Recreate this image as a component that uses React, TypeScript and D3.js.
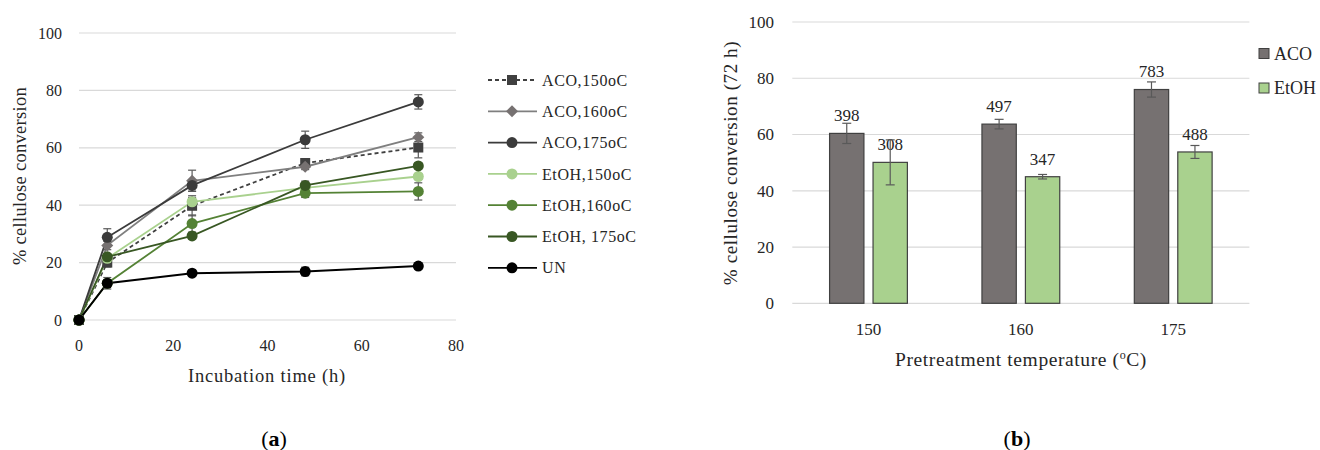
import React from "react";
import * as d3 from "d3";

// ---- Panel (a) data ----
const times = [0, 6, 24, 48, 72];
const seriesNames = ["ACO,150oC", "ACO,160oC", "ACO,175oC", "EtOH,150oC", "EtOH,160oC", "EtOH, 175oC", "UN"];
const aco150 = [0, 20.0, 39.8, 54.7, 60.1];
const aco160 = [0, 26.0, 48.5, 53.4, 63.7];
const aco175 = [0, 28.8, 46.9, 62.8, 76.0];
const etoh150 = [0, 21.5, 41.2, 46.0, 50.0];
const etoh160 = [0, 12.8, 33.6, 44.2, 44.8];
const etoh175 = [0, 22.0, 29.3, 46.9, 53.7];
const un = [0, 12.8, 16.3, 16.9, 18.8];
const aco150Err = [0, 1.5, 3.5, 1.5, 3.6];
const aco160Err = [0, 1.5, 3.7, 1.0, 1.5];
const aco175Err = [0, 3.0, 2.0, 3.0, 2.5];
const etoh150Err = [0, 1.0, 1.5, 1.0, 1.0];
const etoh160Err = [0, 1.0, 3.0, 1.5, 3.0];
const etoh175Err = [0, 1.0, 1.0, 1.5, 1.0];
const unErr = [0, 2.0, 1.0, 1.5, 1.0];
const xTicksA = [0, 20, 40, 60, 80];
const yTicks = [0, 20, 40, 60, 80, 100];

// ---- Panel (b) data ----
const temps = ["150", "160", "175"];
const barGroups = ["ACO", "EtOH"];
const acoBar = [60.4, 63.7, 76.0];
const etohBar = [50.1, 45.0, 53.8];
const acoBarErr = [3.6, 1.7, 2.7];
const etohBarErr = [8.0, 0.8, 2.3];
const acoLabels = ["398", "497", "783"];
const etohLabels = ["308", "347", "488"];

const FONT = "'Liberation Serif', 'DejaVu Serif', serif";
const TXT = "#262626";

type Style = { color: string; marker: "square" | "diamond" | "circle"; dash?: string; mfill: string };
const styles: Style[] = [
  { color: "#404040", marker: "square", dash: "4,3", mfill: "#404040" },
  { color: "#7f7f7f", marker: "diamond", mfill: "#767171" },
  { color: "#3b3b3b", marker: "circle", mfill: "#3b3b3b" },
  { color: "#a9d18e", marker: "circle", mfill: "#a9d18e" },
  { color: "#548235", marker: "circle", mfill: "#548235" },
  { color: "#385723", marker: "circle", mfill: "#385723" },
  { color: "#000000", marker: "circle", mfill: "#000000" },
];

function Marker({ x, y, s }: { x: number; y: number; s: Style }) {
  if (s.marker === "square") return <rect x={x - 5} y={y - 5} width={10} height={10} fill={s.mfill} />;
  if (s.marker === "diamond")
    return <path d={`M${x},${y - 6}L${x + 6},${y}L${x},${y + 6}L${x - 6},${y}Z`} fill={s.mfill} />;
  return <circle cx={x} cy={y} r={5.5} fill={s.mfill} />;
}

function ErrBar({ x, y1, y2, c = 4 }: { x: number; y1: number; y2: number; c?: number }) {
  return (
    <g stroke="#595959" strokeWidth={1.2}>
      <line x1={x} x2={x} y1={y1} y2={y2} />
      <line x1={x - c} x2={x + c} y1={y1} y2={y1} />
      <line x1={x - c} x2={x + c} y1={y2} y2={y2} />
    </g>
  );
}

export default function App() {
  const values = [aco150, aco160, aco175, etoh150, etoh160, etoh175, un];
  const errs = [aco150Err, aco160Err, aco175Err, etoh150Err, etoh160Err, etoh175Err, unErr];

  const xA = d3.scaleLinear().domain([0, 80]).range([79, 456]);
  const yA = d3.scaleLinear().domain([0, 100]).range([320, 33]);
  const line = d3
    .line<number>()
    .x((_, i) => xA(times[i]))
    .y((d) => yA(d));

  const xB = d3.scaleBand().domain(temps).range([792.3, 1249.4]);
  const groupW = 77.8;
  const xSub = d3.scaleBand().domain(barGroups).range([0, groupW]).paddingInner(0.21);
  const yB = d3.scaleLinear().domain([0, 100]).range([303.3, 22]);
  const barW = xSub.bandwidth();

  const legendY = (i: number) => 80 + i * 31.3;

  return (
    <svg width={1320} height={450} style={{ position: "absolute", left: 0, top: 0, background: "#fff" }} fontFamily={FONT}>
      {/* ---------- Panel (a) ---------- */}
      {yTicks.map((t) => (
        <g key={"ga" + t}>
          <line x1={79} x2={456} y1={yA(t)} y2={yA(t)} stroke="#d9d9d9" strokeWidth={1.2} />
          <text x={62} y={yA(t)} dy="0.35em" textAnchor="end" fontSize={16} fill={TXT}>
            {t}
          </text>
        </g>
      ))}
      {xTicksA.map((t) => (
        <text key={"xa" + t} x={xA(t)} y={345} dy="0.35em" textAnchor="middle" fontSize={16} fill={TXT}>
          {t}
        </text>
      ))}
      <text x={267} y={376} dy="0.35em" textAnchor="middle" fontSize={18.5} letterSpacing={0.8} fill={TXT}>
        Incubation time (h)
      </text>
      <text transform="translate(20,176) rotate(-90)" dy="0.35em" textAnchor="middle" fontSize={18.5} letterSpacing={0.3} fill={TXT}>
        % cellulose conversion
      </text>
      {values.map((vals, si) => (
        <path
          key={"l" + si}
          d={line(vals) || ""}
          fill="none"
          stroke={styles[si].color}
          strokeWidth={si === 6 ? 2 : 1.8}
          strokeDasharray={styles[si].dash}
        />
      ))}
      {values.map((vals, si) =>
        vals.map((v, i) =>
          errs[si][i] > 0 ? (
            <ErrBar key={`e${si}-${i}`} x={xA(times[i])} y1={yA(v - errs[si][i])} y2={yA(v + errs[si][i])} />
          ) : null
        )
      )}
      {values.map((vals, si) =>
        vals.map((v, i) => <Marker key={`m${si}-${i}`} x={xA(times[i])} y={yA(v)} s={styles[si]} />)
      )}
      {seriesNames.map((n, i) => (
        <g key={"lg" + i}>
          <line
            x1={488}
            x2={537}
            y1={legendY(i)}
            y2={legendY(i)}
            stroke={styles[i].color}
            strokeWidth={1.8}
            strokeDasharray={styles[i].dash}
          />
          <Marker x={512} y={legendY(i)} s={styles[i]} />
          <text x={542} y={legendY(i)} dy="0.35em" fontSize={16} letterSpacing={0.6} fill={TXT}>
            {n}
          </text>
        </g>
      ))}

      {/* ---------- Panel (b) ---------- */}
      {yTicks.map((t) => (
        <g key={"gb" + t}>
          <line x1={792.3} x2={1249.4} y1={yB(t)} y2={yB(t)} stroke="#d9d9d9" strokeWidth={1.2} />
          <text x={774} y={yB(t)} dy="0.35em" textAnchor="end" fontSize={17} fill={TXT}>
            {t}
          </text>
        </g>
      ))}
      {temps.map((t, i) => {
        const gx = (xB(t) || 0) + (xB.bandwidth() - groupW) / 2;
        const bars = [
          { x: gx + (xSub("ACO") || 0), v: acoBar[i], e: acoBarErr[i], lab: acoLabels[i], fill: "#767171" },
          { x: gx + (xSub("EtOH") || 0), v: etohBar[i], e: etohBarErr[i], lab: etohLabels[i], fill: "#a9d18e" },
        ];
        return (
          <g key={"bg" + t}>
            {bars.map((b, j) => (
              <g key={j}>
                <rect x={b.x} y={yB(b.v)} width={barW} height={yB(0) - yB(b.v)} fill={b.fill} stroke="#404040" strokeWidth={1.2} />
                <text x={b.x + barW / 2} y={yB(b.v) - 18} dy="0.35em" textAnchor="middle" fontSize={17} fill={TXT}>
                  {b.lab}
                </text>
                <ErrBar x={b.x + barW / 2} y1={yB(b.v - b.e)} y2={yB(b.v + b.e)} c={4.5} />
              </g>
            ))}
            <text x={(xB(t) || 0) + xB.bandwidth() / 2} y={329.3} dy="0.35em" textAnchor="middle" fontSize={17} fill={TXT}>
              {t}
            </text>
          </g>
        );
      })}
      <text x={1021} y={359} dy="0.35em" textAnchor="middle" fontSize={19.5} letterSpacing={0.6} fill={TXT}>
        Pretreatment temperature (<tspan baselineShift="super" fontSize={12}>o</tspan>C)
      </text>
      <text transform="translate(730,163) rotate(-90)" dy="0.35em" textAnchor="middle" fontSize={19} letterSpacing={0.6} fill={TXT}>
        % cellulose conversion (72 h)
      </text>
      {barGroups.map((g, i) => (
        <g key={"lb" + g}>
          <rect x={1259} y={48.5 + i * 34.5} width={10} height={10} fill={i === 0 ? "#767171" : "#a9d18e"} stroke="#404040" strokeWidth={1} />
          <text x={1274} y={53.5 + i * 34.5} dy="0.35em" fontSize={18} fill={TXT}>
            {g}
          </text>
        </g>
      ))}

      {/* captions */}
      <text x={274} y={438} dy="0.35em" textAnchor="middle" fontSize={22} fill="#000">
        (<tspan fontWeight="bold">a</tspan>)
      </text>
      <text x={1017} y={438} dy="0.35em" textAnchor="middle" fontSize={22} fill="#000">
        (<tspan fontWeight="bold">b</tspan>)
      </text>
    </svg>
  );
}
